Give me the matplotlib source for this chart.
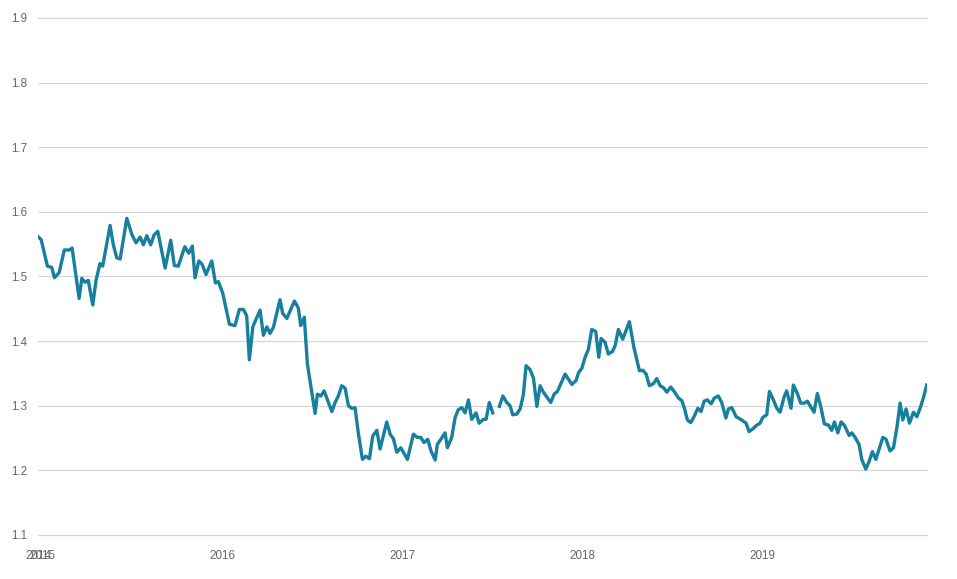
import numpy as np
import matplotlib.pyplot as plt

# weekly GBP/USD (decimal year, rate); NaN = gap in the series
t = [2014.977, 2014.992, 2015.027, 2015.051, 2015.066, 2015.092, 2015.121, 2015.149, 2015.164,
     2015.203, 2015.218, 2015.236, 2015.254, 2015.279, 2015.297, 2015.319, 2015.334, 2015.375,
     2015.393, 2015.412, 2015.431, 2015.468, 2015.496, 2015.519, 2015.542, 2015.560, 2015.579,
     2015.601, 2015.619, 2015.640, 2015.681, 2015.712, 2015.732, 2015.754, 2015.790, 2015.812,
     2015.832, 2015.847, 2015.868, 2015.886, 2015.908, 2015.940, 2015.960, 2015.977, 2016.001,
     2016.038, 2016.069, 2016.093, 2016.116, 2016.134, 2016.149, 2016.168, 2016.208, 2016.227,
     2016.246, 2016.264, 2016.282, 2016.319, 2016.334, 2016.357, 2016.399, 2016.421, 2016.434,
     2016.454, 2016.471, 2016.514, 2016.527, 2016.546, 2016.564, 2016.607, 2016.625, 2016.643,
     2016.662, 2016.681, 2016.699, 2016.718, 2016.736, 2016.754, 2016.777, 2016.796, 2016.816,
     2016.834, 2016.857, 2016.875, 2016.912, 2016.931, 2016.949, 2016.968, 2016.990, 2017.027,
     2017.060, 2017.082, 2017.101, 2017.119, 2017.140, 2017.158, 2017.181, 2017.193, 2017.236,
     2017.249, 2017.273, 2017.292, 2017.310, 2017.329, 2017.347, 2017.366, 2017.384, 2017.408,
     2017.425, 2017.449, 2017.464, 2017.482, 2017.501, 2017.520, 2017.538, 2017.557, 2017.579,
     2017.597, 2017.612, 2017.634, 2017.653, 2017.671, 2017.686, 2017.708, 2017.727, 2017.746,
     2017.764, 2017.782, 2017.823, 2017.842, 2017.860, 2017.903, 2017.940, 2017.964, 2017.977,
     2017.996, 2018.014, 2018.032, 2018.051, 2018.073, 2018.090, 2018.103, 2018.125, 2018.143,
     2018.166, 2018.181, 2018.199, 2018.223, 2018.260, 2018.286, 2018.316, 2018.334, 2018.353,
     2018.371, 2018.393, 2018.412, 2018.431, 2018.449, 2018.468, 2018.490, 2018.514, 2018.532,
     2018.551, 2018.566, 2018.582, 2018.601, 2018.619, 2018.640, 2018.658, 2018.675, 2018.693,
     2018.714, 2018.732, 2018.754, 2018.773, 2018.796, 2018.810, 2018.829, 2018.853, 2018.884,
     2018.908, 2018.925, 2018.949, 2018.968, 2018.986, 2019.001, 2019.023, 2019.038, 2019.060,
     2019.079, 2019.097, 2019.121, 2019.134, 2019.158, 2019.171, 2019.193, 2019.212, 2019.231,
     2019.249, 2019.268, 2019.286, 2019.304, 2019.323, 2019.343, 2019.366, 2019.384, 2019.399,
     2019.418, 2019.436, 2019.454, 2019.481, 2019.496, 2019.514, 2019.536, 2019.551, 2019.573,
     2019.592, 2019.610, 2019.629, 2019.668, 2019.686, 2019.708, 2019.727, 2019.746, 2019.764,
     2019.779, 2019.797, 2019.816, 2019.838, 2019.857, 2019.875, 2019.893, 2019.912]

rate = [1.561, 1.557, 1.516, 1.514, 1.498, 1.506, 1.541, 1.541, 1.544,
        1.466, 1.497, 1.491, 1.494, 1.456, 1.494, 1.520, 1.516, 1.579,
        1.549, 1.529, 1.527, 1.590, 1.565, 1.552, 1.561, 1.549, 1.563,
        1.549, 1.564, 1.570, 1.513, 1.556, 1.517, 1.516, 1.546, 1.536,
        1.547, 1.498, 1.524, 1.519, 1.503, 1.524, 1.490, 1.492, 1.474,
        1.426, 1.424, 1.449, 1.449, 1.439, 1.371, 1.422, 1.448, 1.409,
        1.422, 1.412, 1.421, 1.464, 1.443, 1.435, 1.462, 1.451, 1.424,
        1.437, 1.365, 1.288, 1.318, 1.315, 1.323, 1.291, 1.305, 1.315,
        1.331, 1.327, 1.300, 1.296, 1.297, 1.258, 1.217, 1.222, 1.218,
        1.253, 1.262, 1.233, 1.275, 1.256, 1.249, 1.228, 1.235, 1.217,
        1.256, 1.251, 1.251, 1.243, 1.248, 1.230, 1.216, 1.240, 1.258,
        1.235, 1.251, 1.282, 1.294, 1.297, 1.289, 1.309, 1.279, 1.289,
        1.273, 1.279, 1.279, 1.305, 1.289, np.nan, 1.299, 1.315, 1.305,
        1.300, 1.286, 1.287, 1.295, 1.317, 1.362, 1.356, 1.343, 1.299,
        1.331, 1.321, 1.305, 1.318, 1.322, 1.349, 1.333, 1.339, 1.351,
        1.358, 1.375, 1.387, 1.418, 1.415, 1.375, 1.404, 1.398, 1.380,
        1.384, 1.393, 1.418, 1.403, 1.430, 1.389, 1.354, 1.355, 1.349,
        1.331, 1.334, 1.342, 1.331, 1.328, 1.321, 1.329, 1.320, 1.312,
        1.308, 1.296, 1.278, 1.274, 1.283, 1.296, 1.291, 1.307, 1.309,
        1.303, 1.312, 1.315, 1.305, 1.281, 1.295, 1.297, 1.283, 1.278,
        1.273, 1.260, 1.265, 1.270, 1.273, 1.282, 1.286, 1.322, 1.309,
        1.296, 1.290, 1.315, 1.323, 1.296, 1.332, 1.319, 1.304, 1.304,
        1.307, 1.298, 1.290, 1.319, 1.299, 1.272, 1.270, 1.262, 1.275,
        1.258, 1.275, 1.270, 1.254, 1.258, 1.251, 1.240, 1.217, 1.202,
        1.214, 1.229, 1.217, 1.251, 1.248, 1.230, 1.235, 1.266, 1.304,
        1.278, 1.295, 1.273, 1.290, 1.283, 1.296, 1.312, 1.332]

x_ticks = [2014.975, 2015, 2016, 2017, 2018, 2019]
x_labels = ['2014', '2015', '2016', '2017', '2018', '2019']
y_ticks = [1.1, 1.2, 1.3, 1.4, 1.5, 1.6, 1.7, 1.8, 1.9]

plt.rcParams['font.family'] = ['Liberation Sans', 'DejaVu Sans']

fig = plt.figure(figsize=(9.57, 5.79), dpi=100)
ax = fig.add_axes([0.0394, 0.076, 0.929, 0.893])

ax.plot(t, rate, color='#17809e', linewidth=2.4, solid_joinstyle='round')

ax.set_xlim(2014.973, 2019.912)
ax.set_ylim(1.1, 1.9)
ax.set_xticks(x_ticks)
ax.set_xticklabels(x_labels)
ax.set_yticks(y_ticks)
ax.set_yticklabels([f'{v:.1f}' for v in y_ticks])

ax.grid(axis='y', color='#d6d6d6', linewidth=0.9)
for gl in ax.get_ygridlines():
    gl.set_clip_on(False)
ax.set_axisbelow(True)
for s in ax.spines.values():
    s.set_visible(False)
ax.tick_params(axis='both', length=0, labelsize=8.4, colors='#666666')
ax.tick_params(axis='y', pad=7.5)
ax.tick_params(axis='x', pad=11)

fig.savefig('out.png', dpi=100)
